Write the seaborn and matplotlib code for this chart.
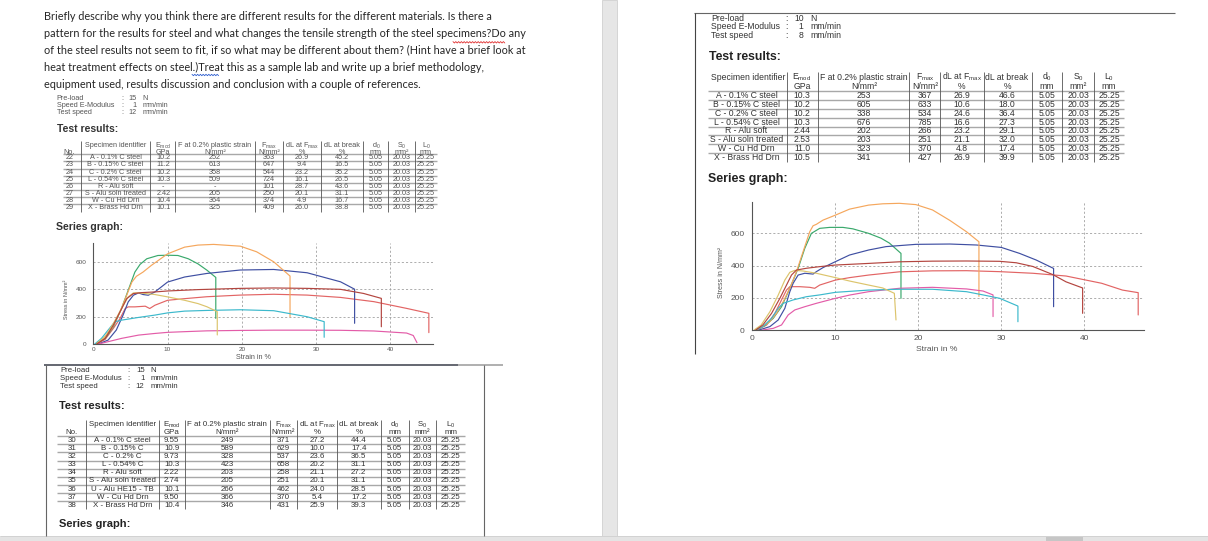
import numpy as np
import pandas as pd
import matplotlib
matplotlib.use("Agg")
import matplotlib.pyplot as plt
import seaborn as sns
from matplotlib.ticker import MultipleLocator

W, H = 1208, 541

# ---------------- question text ----------------
question_lines = [
    "Briefly describe why you think there are different results for the different materials. Is there a",
    "pattern for the results for steel and what changes the tensile strength of the steel specimens?Do any",
    "of the steel results not seem to fit, if so what may be different about them? (Hint have a brief look at",
    "heat treatment effects on steel.)Treat this as a sample lab and write up a brief methodology,",
    "equipment used, results discussion and conclusion with a couple of references.",
]

# ---------------- test settings (pre-load N, speed E-modulus, test speed) ----------------
settings_1 = ["15", "1", "12"]
settings_2 = ["10", "1", "8"]
settings_3 = ["15", "1", "12"]
setting_names = ["Pre-load", "Speed E-Modulus", "Test speed"]
setting_units = ["N", "mm/min", "mm/min"]

# ---------------- test results, series 1 (No. 22-29) ----------------
no_1 = ["22", "23", "24", "25", "26", "27", "28", "29"]
ids_1 = ["A - 0.1% C steel", "B - 0.15% C steel", "C - 0.2% C steel", "L - 0.54% C steel",
         "R - Alu soft", "S - Alu soln treated", "W - Cu Hd Drn", "X - Brass Hd Drn"]
emod_1 = ["10.2", "11.2", "10.2", "10.3", "-", "2.42", "10.4", "10.1"]
f02_1 = ["252", "613", "358", "509", "-", "205", "364", "325"]
fmax_1 = ["363", "647", "544", "724", "101", "250", "374", "409"]
dlfmax_1 = ["26.9", "9.4", "23.2", "16.1", "28.7", "20.1", "4.9", "26.0"]
dlbreak_1 = ["45.2", "16.5", "35.2", "26.5", "43.6", "31.1", "16.7", "38.8"]

# ---------------- test results, series 2 (right page) ----------------
ids_2 = ["A - 0.1% C steel", "B - 0.15% C steel", "C - 0.2% C steel", "L - 0.54% C steel",
         "R - Alu soft", "S - Alu soln treated", "W - Cu Hd Drn", "X - Brass Hd Drn"]
emod_2 = ["10.3", "10.2", "10.2", "10.3", "2.44", "2.53", "11.0", "10.5"]
f02_2 = ["253", "605", "338", "676", "202", "203", "323", "341"]
fmax_2 = ["367", "633", "534", "785", "266", "251", "370", "427"]
dlfmax_2 = ["26.9", "10.6", "24.6", "16.6", "23.2", "21.1", "4.8", "26.9"]
dlbreak_2 = ["46.6", "18.0", "36.4", "27.3", "29.1", "32.0", "17.4", "39.9"]

# ---------------- test results, series 3 (No. 30-38) ----------------
no_3 = ["30", "31", "32", "33", "34", "35", "36", "37", "38"]
ids_3 = ["A - 0.1% C steel", "B - 0.15% C", "C - 0.2% C", "L - 0.54% C", "R - Alu soft",
         "S - Alu soln treated", "U - Alu HE15 - TB", "W - Cu Hd Drn", "X - Brass Hd Drn"]
emod_3 = ["9.55", "10.9", "9.73", "10.3", "2.22", "2.74", "10.1", "9.50", "10.4"]
f02_3 = ["249", "589", "328", "423", "203", "205", "266", "366", "346"]
fmax_3 = ["371", "629", "537", "658", "258", "251", "462", "370", "431"]
dlfmax_3 = ["27.2", "10.0", "23.6", "20.2", "21.1", "20.1", "24.0", "5.4", "25.9"]
dlbreak_3 = ["44.4", "17.4", "36.5", "31.1", "27.2", "31.1", "28.5", "17.2", "39.3"]

d0, s0, l0 = "5.05", "20.03", "25.25"

# ---------------- stress-strain curves, series 1 (left graph) ----------------
a1_strain = [0.45, 1.6, 2.7, 3.6, 4.3, 4.7, 5.6, 7.0, 7.6, 8.3, 10, 12.3, 15.3, 19.8, 24.3, 28.8, 33.3, 37.8, 42.2, 45.2, 45.2]
a1_stress = [0, 34, 114, 186, 259, 271, 271, 276, 259, 283, 319, 331, 345, 357, 363, 357, 340, 309, 260, 224, 83]
b1_strain = [0.45, 1.6, 2.7, 3.8, 4.7, 5.6, 6.3, 7.2, 8.7, 10, 11.4, 12.8, 14.1, 15.3, 16.5, 16.5]
b1_stress = [5, 41, 126, 259, 392, 525, 581, 622, 646, 648, 646, 622, 585, 539, 486, 187]
c1_strain = [0.7, 2, 3.1, 4, 4.7, 5.4, 6.1, 6.7, 7.4, 8.3, 10, 12.3, 15.3, 19.8, 24.3, 28.8, 33.3, 35.2, 35.2]
c1_stress = [0, 29, 102, 210, 307, 356, 373, 361, 356, 380, 452, 489, 515, 540, 544, 520, 454, 400, 151]
l1_strain = [0.45, 1.35, 2.5, 3.6, 4.5, 5.2, 5.8, 6.7, 7.8, 10, 12.3, 14.1, 16.2, 19.8, 22, 24.3, 26.5, 26.5]
l1_stress = [5, 41, 114, 235, 356, 452, 494, 525, 573, 658, 707, 722, 727, 714, 673, 600, 496, 199]
r1_strain = [0.7, 2, 3.8, 6.1, 8.3, 10, 12.3, 15.3, 19.8, 24.3, 28.8, 33.3, 37.8, 42.2, 43.1, 43.6]
r1_stress = [0, 17, 41, 65, 77, 85, 90, 96, 99, 101, 101, 100, 95, 80, 62, 10]
s1_strain = [0.2, 1.1, 2, 2.9, 3.8, 6.1, 8.3, 10, 12.3, 15.3, 19.8, 24.3, 28.8, 31.1, 31.1]
s1_stress = [0, 41, 102, 162, 174, 194, 211, 227, 240, 245, 250, 243, 199, 163, 49]
w1_strain = [0.45, 1.6, 2.7, 3.8, 4.7, 5.4, 6.1, 8.3, 10, 12.3, 14.1, 15.3, 16.7, 16.7]
w1_stress = [5, 53, 150, 259, 344, 373, 374, 361, 344, 319, 295, 272, 236, 66]
x1_strain = [0.45, 1.6, 2.7, 3.6, 4.5, 5.4, 6.5, 8.3, 10, 14.1, 19.8, 24.3, 28.8, 33.3, 36.4, 38.8, 38.8]
x1_stress = [0, 41, 138, 235, 331, 368, 375, 380, 387, 397, 406, 409, 406, 399, 369, 333, 126]

# ---------------- stress-strain curves, series 2 (right graph) ----------------
a2_strain = [0.6, 1.7, 2.7, 3.5, 4.1, 4.5, 5.7, 6.9, 7.5, 8.1, 10, 11.7, 14, 17.7, 21.7, 25.8, 29.8, 33.8, 37.8, 42.1, 44.6, 46.5, 46.5]
a2_stress = [2, 33, 105, 188, 249, 270, 270, 266, 260, 280, 311, 326, 342, 362, 368, 369, 363, 353, 336, 291, 249, 233, 95]
b2_strain = [0.4, 1.5, 2.5, 3.5, 4.5, 5.5, 6.3, 7.1, 8.1, 9.3, 10.9, 12.1, 14, 15.5, 16.5, 17.9, 17.9]
b2_stress = [2, 29, 74, 146, 260, 383, 507, 600, 631, 637, 637, 628, 600, 570, 540, 476, 198]
c2_strain = [0.8, 2.1, 3.1, 3.9, 4.5, 4.9, 5.5, 6.3, 7.3, 7.7, 8.5, 10, 11.7, 14, 16.1, 19.7, 23.8, 27, 30, 32.2, 34.2, 36.3, 36.3]
c2_stress = [2, 23, 64, 136, 239, 291, 342, 353, 348, 363, 388, 425, 466, 497, 518, 532, 534, 528, 513, 476, 435, 383, 146]
l2_strain = [0.4, 1.25, 2.1, 2.9, 3.7, 4.5, 5.3, 6.1, 6.9, 7.3, 7.7, 8.5, 10, 11.7, 14, 15.7, 17.7, 19.7, 21.7, 23.8, 25.8, 27.3, 27.3]
l2_stress = [2, 23, 54, 105, 177, 260, 363, 487, 610, 647, 656, 682, 713, 750, 775, 783, 786, 778, 745, 680, 610, 548, 210]
r2_strain = [1.25, 2.5, 3.5, 4.3, 5.1, 6.3, 7.7, 10, 11.7, 14, 17.7, 21.7, 25.8, 27.8, 29, 29]
r2_stress = [2, 12, 33, 95, 126, 146, 167, 198, 218, 239, 260, 266, 256, 243, 219, 85]
s2_strain = [0.4, 1.25, 2.3, 3.1, 3.7, 4.9, 6.5, 8.1, 10, 14, 17.7, 21.7, 25.8, 27.8, 29.8, 32, 32]
s2_stress = [2, 23, 74, 136, 167, 188, 208, 219, 235, 249, 254, 254, 239, 219, 198, 150, 53]
w2_strain = [0.2, 1.05, 2.1, 3.1, 3.9, 4.5, 5.1, 6.1, 7.7, 10, 11.7, 14, 15.7, 17.1, 17.3]
w2_stress = [2, 33, 115, 218, 311, 359, 371, 367, 353, 326, 305, 280, 262, 229, 64]
x2_strain = [0.4, 1.25, 2.3, 3.3, 4.1, 4.7, 5.3, 6.5, 8.1, 10, 14, 17.7, 21.7, 25.8, 29.8, 31.8, 33.8, 36.2, 37.8, 39.8, 39.8]
x2_stress = [2, 33, 105, 198, 280, 342, 373, 384, 394, 404, 414, 424, 428, 429, 427, 418, 395, 345, 300, 262, 105]

palette = {"A": "#e26464", "B": "#3aa96c", "C": "#3f4fa2", "L": "#f5a75d",
           "R": "#e35ca8", "S": "#3cb9cc", "W": "#dcc46c", "X": "#b3453f"}


def curves_frame(curves):
    parts = [pd.DataFrame({"strain": s, "stress": t, "specimen": n}) for n, s, t in curves]
    return pd.concat(parts, ignore_index=True)


series_1 = curves_frame([("A", a1_strain, a1_stress), ("B", b1_strain, b1_stress),
                         ("C", c1_strain, c1_stress), ("L", l1_strain, l1_stress),
                         ("R", r1_strain, r1_stress), ("S", s1_strain, s1_stress),
                         ("W", w1_strain, w1_stress), ("X", x1_strain, x1_stress)])
series_2 = curves_frame([("A", a2_strain, a2_stress), ("B", b2_strain, b2_stress),
                         ("C", c2_strain, c2_stress), ("L", l2_strain, l2_stress),
                         ("R", r2_strain, r2_stress), ("S", s2_strain, s2_stress),
                         ("W", w2_strain, w2_stress), ("X", x2_strain, x2_stress)])

sns.set_theme(style="white")
plt.rcParams["font.family"] = ["Liberation Sans", "DejaVu Sans"]
plt.rcParams["mathtext.fontset"] = "custom"
plt.rcParams["mathtext.rm"] = "Liberation Sans"
plt.rcParams["mathtext.it"] = "Liberation Sans"

fig = plt.figure(figsize=(W / 100, H / 100), dpi=100)
fig.patch.set_facecolor("white")

# page overlay in pixel coordinates
bg = fig.add_axes([0, 0, 1, 1])
bg.set_xlim(0, W)
bg.set_ylim(H, 0)
bg.axis("off")


def px_rect(left, top, right, bottom):
    return [left / W, 1 - bottom / H, (right - left) / W, (bottom - top) / H]


def hline(x0, x1, y, color, lw=0.8):
    bg.plot([x0, x1], [y, y], color=color, lw=lw, solid_capstyle="butt")


def vline(x, y0, y1, color, lw=0.8):
    bg.plot([x, x], [y0, y1], color=color, lw=lw, solid_capstyle="butt")


# window chrome: grey separator strip and bottom scroll bar
bg.add_patch(plt.Rectangle((602, 0), 15, H, facecolor="#e6e6e6", edgecolor="#d0d0d0", lw=0.6))
bg.add_patch(plt.Rectangle((0, 536), W, 5, facecolor="#e4e4e4", edgecolor="none"))
hline(0, W, 536, "#cfcfcf", 0.6)
bg.add_patch(plt.Rectangle((1046, 537), 37, 4, facecolor="#c6c6c6", edgecolor="none"))

# page borders
hline(693.6, 1175, 12.5, "#666666")
vline(695, 12.5, 354, "#444444")
hline(44, 458, 365, "#3a3f4a", 1.1)
hline(458, 503, 365, "#9a9a9a", 1.1)
vline(46, 365, 536, "#666666")
vline(484, 365, 536, "#666666")

# question text, font size fitted to the first line width
fig.canvas.draw()
renderer = fig.canvas.get_renderer()
probe = bg.text(44, 16.5, question_lines[0], fontsize=10, family=["Lato", "DejaVu Sans"])
fit_fs = 10 * 446 / probe.get_window_extent(renderer).width
probe.remove()
for i, line in enumerate(question_lines):
    bg.text(44, 16.5 + 17.05 * i, line, fontsize=fit_fs, family=["Lato", "DejaVu Sans"],
            color="#262626", va="center", ha="left")


def squiggle(x0, x1, y, color):
    xs = np.arange(x0, x1, 1.4)
    ys = y + np.where(np.arange(len(xs)) % 2 == 0, -0.7, 0.7)
    bg.plot(xs, ys, color=color, lw=0.6)


squiggle(453, 505, 42.3, "#e03030")
squiggle(192, 219, 75, "#3060d0")


def settings_block(x, ys, colon_dx, num_dx, unit_dx, values, fs, color):
    for y, name, val, unit in zip(ys, setting_names, values, setting_units):
        bg.text(x, y, name, fontsize=fs, color=color, va="center", ha="left")
        bg.text(x + colon_dx, y, ":", fontsize=fs, color=color, va="center", ha="left")
        bg.text(x + num_dx, y, val, fontsize=fs, color=color, va="center", ha="right")
        bg.text(x + unit_dx, y, unit, fontsize=fs, color=color, va="center", ha="left")


def draw_table(x0, x1, vlines, centers, y_h1, y_h2, y0, step, head1, head2, columns, fs, color,
               head1_left=None):
    n_rows = len(columns[0])
    rows_y = [y0 + step * i for i in range(n_rows)]
    for j, (xc, h1, h2) in enumerate(zip(centers, head1, head2)):
        if j == head1_left:
            bg.text(x0 + 3.5, y_h1, h1, fontsize=fs, color=color, va="center", ha="left")
        else:
            bg.text(xc, y_h1, h1, fontsize=fs, color=color, va="center", ha="center")
        bg.text(xc, y_h2, h2, fontsize=fs, color=color, va="center", ha="center")
    for xc, col in zip(centers, columns):
        for y, val in zip(rows_y, col):
            bg.text(xc, y, val, fontsize=fs, color=color, va="center", ha="center")
    for y in [rows_y[0] - step * 0.52] + [r + step / 2 for r in rows_y[:-1]]:
        hline(x0, x1, y, "#a8a8a8", 1.0)
    for xv in vlines:
        vline(xv, y_h1 - step * 0.6, rows_y[-1] + step * 0.5, "#555555", 0.6)


head1_base = ["Specimen identifier", r"E$_{\rm mod}$", "F at 0.2% plastic strain", r"F$_{\rm max}$",
              r"dL at F$_{\rm max}$", "dL at break", r"d$_0$", r"S$_0$", r"L$_0$"]
head2_base = ["", "GPa", "N/mm²", "N/mm²", "%", "%", "mm", "mm²", "mm"]

# ---- right page block ----
settings_block(711.2, [18.3, 26.9, 35.9], 74, 92.4, 99.3, settings_2, 6.2, "#333333")
bg.text(709, 56.6, "Test results:", fontsize=8.8, fontweight="bold", color="#222222", va="center")
n2 = len(ids_2)
draw_table(707.5, 1124, [786.5, 818, 909.4, 940, 983.5, 1031.5, 1062, 1093.5],
           [746.5, 802, 864, 925, 962, 1007, 1047, 1078, 1109],
           77.2, 86.2, 95.5, 8.87, head1_base, head2_base,
           [ids_2, emod_2, f02_2, fmax_2, dlfmax_2, dlbreak_2, [d0] * n2, [s0] * n2, [l0] * n2],
           6.2, "#333333", head1_left=0)
bg.text(708.4, 178.6, "Series graph:", fontsize=8.9, fontweight="bold", color="#222222", va="center")

# ---- upper left block ----
settings_block(56.7, [99, 105.7, 112.3], 64.3, 80, 85.7, settings_1, 5.2, "#555555")
bg.text(56.7, 128.7, "Test results:", fontsize=7.5, fontweight="bold", color="#333333", va="center")
n1 = len(ids_1)
draw_table(63, 436.7, [80.7, 150, 175, 255, 283.3, 321, 363.3, 388.3, 415],
           [69.3, 115.5, 163.3, 215, 269, 302, 342, 376, 401.5, 426],
           145.5, 152.3, 157.8, 7.17, [""] + head1_base, ["No."] + head2_base,
           [no_1, ids_1, emod_1, f02_1, fmax_1, dlfmax_1, dlbreak_1, [d0] * n1, [s0] * n1, [l0] * n1],
           5.2, "#555555")
bg.text(56, 226.5, "Series graph:", fontsize=7.6, fontweight="bold", color="#333333", va="center")

# ---- lower left block ----
settings_block(60.5, [370.7, 378.3, 386.3], 67, 84, 90, settings_3, 5.6, "#333333")
bg.text(59.3, 406, "Test results:", fontsize=8, fontweight="bold", color="#222222", va="center")
n3 = len(ids_3)
draw_table(57.4, 465, [86.1, 158.8, 184.5, 269.8, 297.4, 336.8, 380.8, 408.7, 436.3],
           [72, 122.5, 171.7, 227, 283.6, 317, 358.8, 394.7, 422.5, 450.6],
           425, 432.3, 440.3, 8.125, [""] + head1_base, ["No."] + head2_base,
           [no_3, ids_3, emod_3, f02_3, fmax_3, dlfmax_3, dlbreak_3, [d0] * n3, [s0] * n3, [l0] * n3],
           5.7, "#333333")
bg.text(59.3, 523.7, "Series graph:", fontsize=8, fontweight="bold", color="#222222", va="center")


# ---------------- series graphs ----------------
def series_graph(rect, data, xmax, ymax, tick_fs, label_fs, ylabel_fs, xlabel_pos, ylabel_pos,
                 tick_len, xpad, ypad):
    ax = fig.add_axes(rect)
    ax.patch.set_alpha(0)
    sns.lineplot(data=data, x="strain", y="stress", hue="specimen", units="specimen",
                 estimator=None, sort=False, palette=palette, legend=False, linewidth=0.85, ax=ax)
    ax.set_xlim(0, xmax)
    ax.set_ylim(0, ymax)
    ax.xaxis.set_major_locator(MultipleLocator(10))
    ax.xaxis.set_minor_locator(MultipleLocator(2))
    ax.yaxis.set_major_locator(MultipleLocator(200))
    ax.yaxis.set_minor_locator(MultipleLocator(50))
    ax.grid(which="major", color="#a0a0a0", ls=(0, (2.5, 2.5)), lw=0.6)
    for side in ["top", "right"]:
        ax.spines[side].set_visible(False)
    for side in ["left", "bottom"]:
        ax.spines[side].set_color("#555555")
        ax.spines[side].set_linewidth(0.8)
    ax.tick_params(which="both", direction="inout", color="#555555", labelcolor="#555555",
                   labelsize=tick_fs, width=0.6)
    ax.tick_params(which="major", length=tick_len)
    ax.tick_params(which="minor", length=tick_len * 0.7)
    ax.tick_params(axis="x", pad=xpad)
    ax.tick_params(axis="y", pad=ypad)
    ax.set_xlabel("Strain in %", fontsize=label_fs, color="#555555")
    ax.set_ylabel("Stress in N/mm²", fontsize=ylabel_fs, color="#555555")
    ax.xaxis.set_label_coords(*xlabel_pos)
    ax.yaxis.set_label_coords(*ylabel_pos)
    ax.xaxis.label.set_va("center")
    ax.yaxis.label.set_va("center")
    return ax


series_graph(px_rect(93.3, 243.3, 433.3, 344), series_1, 45.8, 735, 4.6, 5.2, 4.0,
             (0.47, -0.132), (-0.078, 0.44), 3.0, 1.0, 3.5)
series_graph(px_rect(752.5, 201.7, 1144, 330.3), series_2, 47.2, 796, 6.0, 6.1, 5.0,
             (0.471, -0.148), (-0.079, 0.45), 3.5, 1.6, 4.0)

fig.savefig("out.png", dpi=100)
